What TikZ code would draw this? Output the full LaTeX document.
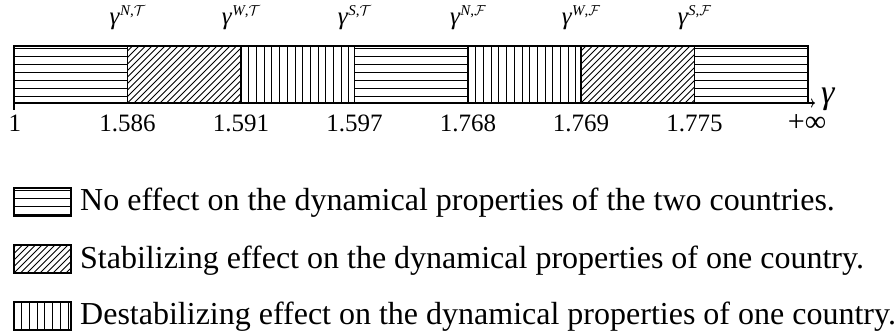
\documentclass[tikz,border=0pt]{standalone}
\usepackage{fontspec}
\setmainfont{Liberation Serif}
\usetikzlibrary{arrows.meta}
\newcommand{\gsym}{\textit{γ}}
\newcommand{\glab}[2]{\gsym\raisebox{9pt}{\fontsize{15}{15}\selectfont\textit{#1},$\mathcal{#2}$}}
\begin{document}
\begin{tikzpicture}[x=1pt,y=-1pt,
  seg/.style={draw, line width=1.1pt, inner sep=0, outer sep=0, minimum height=57pt, minimum width=113.5pt, anchor=north west},
  hatch/.style={line width=0.8pt},
  hpat/.style={path picture={\foreach \k in {0,...,7} \draw[hatch] ([yshift=-2pt-\k*8pt]path picture bounding box.north west) -- ([yshift=-2pt-\k*8pt]path picture bounding box.north east);}},
  vpat/.style={path picture={\foreach \k in {1,...,15} \draw[hatch] ([xshift=\k*7.7pt]path picture bounding box.south west) -- ([xshift=\k*7.7pt]path picture bounding box.north west);}},
  dpat/.style={path picture={\foreach \k in {-12,...,20} \draw[hatch] ([xshift=\k*6.5pt]path picture bounding box.south west) -- ++(70pt,70pt);}},
  num/.style={anchor=base, inner sep=0, font=\fontsize{25}{30}\selectfont},
  toplab/.style={anchor=base, inner sep=0, font=\fontsize{25}{30}\selectfont},
  legbox/.style={draw, line width=1.1pt, inner sep=0, outer sep=0, minimum width=57pt, minimum height=28pt, anchor=north west},
  legtext/.style={anchor=base west, inner sep=0, font=\fontsize{32}{38}\selectfont},
]
\useasboundingbox (0,0) rectangle (896,331);
% bar segments
\node[seg,hpat] (s1) at (14,46) {};
\node[seg,dpat] (s2) at (127.5,46) {};
\node[seg,vpat] (s3) at (241,46) {};
\node[seg,hpat] (s4) at (354.5,46) {};
\node[seg,vpat] (s5) at (468,46) {};
\node[seg,dpat] (s6) at (581,46) {};
\node[seg,hpat] (s7) at (694.5,46) {};
% axis
\coordinate (axend) at (815,103);
\coordinate (tick) at (14,110);
\draw[line width=1.6pt, -{To[length=4pt,width=9pt,line width=0.8pt]}] (s1.south west) -- (axend);
\draw[line width=1.1pt] (s1.south west) -- (tick);
\node[anchor=base west, inner sep=0, font=\fontsize{34}{38}\selectfont] (gax) at (821,104) {\gsym};
% numbers
\node[num] (n0) at (15,132) {1};
\node[num] (n1) at (127.5,132) {1.586};
\node[num] (n2) at (241,132) {1.591};
\node[num] (n3) at (354.5,132) {1.597};
\node[num] (n4) at (468,132) {1.768};
\node[num] (n5) at (581,132) {1.769};
\node[num] (n6) at (694.5,132) {1.775};
\node[num, font=\fontsize{30}{34}\selectfont] (n7) at (807,132) {+∞};
% top labels
\node[toplab] (t1) at (127.5,25) {\glab{N}{T}};
\node[toplab] (t2) at (241,25) {\glab{W}{T}};
\node[toplab] (t3) at (354.5,25) {\glab{S}{T}};
\node[toplab] (t4) at (468,25) {\glab{N}{F}};
\node[toplab] (t5) at (581,25) {\glab{W}{F}};
\node[toplab] (t6) at (694.5,25) {\glab{S}{F}};
% legend
\node[legbox,hpat] (l1) at (14,188) {};
\node[legbox,dpat] (l2) at (14,245) {};
\node[legbox,vpat] (l3) at (14,302) {};
\node[legtext] (lt1) at (80,211) {No effect on the dynamical properties of the two countries.};
\node[legtext] (lt2) at (80,268) {Stabilizing effect on the dynamical properties of one country.};
\node[legtext] (lt3) at (80,324) {Destabilizing effect on the dynamical properties of one country.};
\end{tikzpicture}
\end{document}
